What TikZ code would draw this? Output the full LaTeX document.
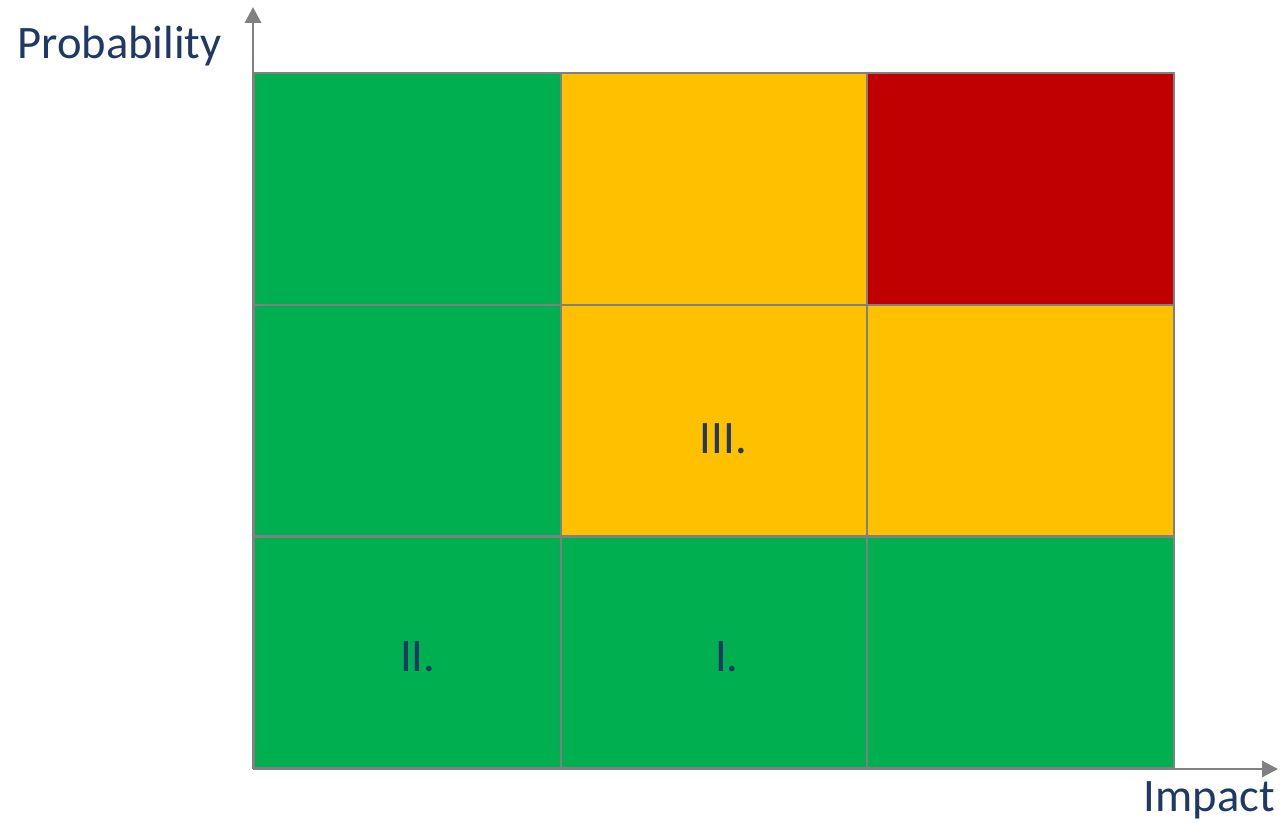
\documentclass[tikz,border=0pt]{standalone}
\usepackage{fontspec}
\setmainfont{Carlito}
\usetikzlibrary{arrows.meta, positioning, calc}
\definecolor{riskgreen}{HTML}{00B050}
\definecolor{riskamber}{HTML}{FFC000}
\definecolor{riskred}{HTML}{C00000}
\definecolor{labelblue}{HTML}{1F3864}
\definecolor{axisgray}{HTML}{808080}
\begin{document}
\begin{tikzpicture}[
    font=\fontsize{26.5}{32}\selectfont,
    cell/.style={rectangle, draw=axisgray, line width=1.2pt, minimum width=6.13cm, minimum height=4.63cm, inner sep=0pt, anchor=south west},
    axis/.style={-{Triangle[length=0.32cm, width=0.32cm]}, line width=1.7pt, draw=axisgray},
    risklabel/.style={text=labelblue, inner sep=0pt}
]
\useasboundingbox (-5.06,-1.06) rectangle (20.56,15.38);
% ---------------- RISK CELLS ----------------
\foreach \col/\row/\clr in {1/1/riskgreen, 2/1/riskgreen, 3/1/riskgreen,
                            1/2/riskgreen, 2/2/riskamber, 3/2/riskamber,
                            1/3/riskgreen, 2/3/riskamber, 3/3/riskred}
    \node[cell, fill=\clr] (c\col\row) at ({(\col-1)*6.13},{(\row-1)*4.63}) {};
% ---------------- AXES ----------------
\coordinate (origin) at (0,0);
\coordinate (ytip) at (0,15.24);
\coordinate (xtip) at (20.50,0);
\draw[axis] (origin) -- (ytip);
\draw[axis] (origin) -- (xtip);
\node[risklabel, anchor=base east] (problabel) at (-0.62,14.2) {Probability};
\node[risklabel, anchor=base east] (impactlabel) at (20.44,-0.84) {Impact};
% ---------------- CELL LABELS ----------------
\node[risklabel] (lblthree) at ($ (c22) + (0.19,-0.37) $) {III.};
\node[risklabel] (lbltwo) at ($ (c11) + (0.21,-0.1) $) {II.};
\node[risklabel] (lblone) at ($ (c21) + (0.26,-0.1) $) {I.};
\end{tikzpicture}
\end{document}
